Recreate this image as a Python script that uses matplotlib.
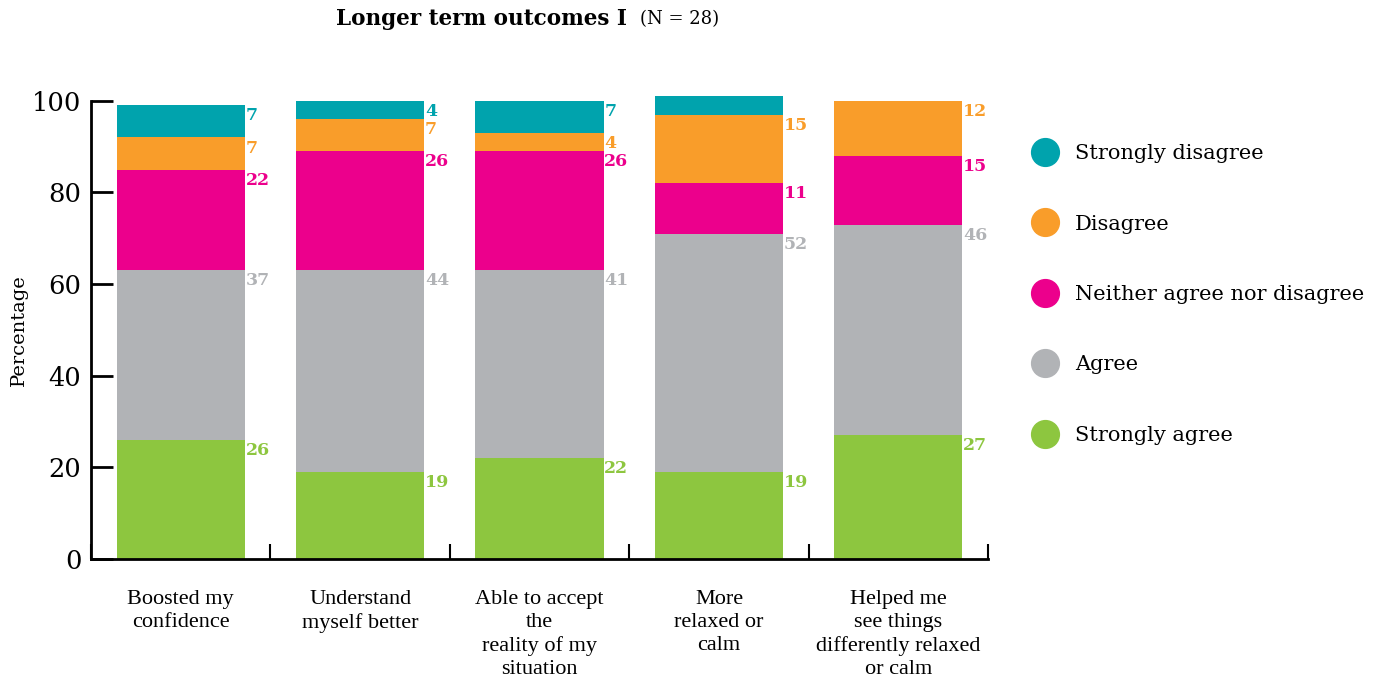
import numpy as np
import matplotlib
matplotlib.use("Agg")
import matplotlib.pyplot as plt
from matplotlib.lines import Line2D

# categories and responses (percent), bottom to top in the stack
categories = ["Boosted my\nconfidence", "Understand\nmyself better",
              "Able to accept\nthe\nreality of my\nsituation",
              "More\nrelaxed or\ncalm",
              "Helped me\nsee things\ndifferently relaxed\nor calm"]
responses = ["Strongly agree", "Agree", "Neither agree nor disagree",
             "Disagree", "Strongly disagree"]
strongly_agree = [26, 19, 22, 19, 27]
agree = [37, 44, 41, 52, 46]
neither = [22, 26, 26, 11, 15]
disagree = [7, 7, 4, 15, 12]
strongly_disagree = [7, 4, 7, 4, 0]

colours = ["#8DC63F", "#B1B3B6", "#EC008C", "#F99D2A", "#00A3AD"]
series = [strongly_agree, agree, neither, disagree, strongly_disagree]

serif = "DejaVu Serif"
fig = plt.figure(figsize=(13.79, 6.81), dpi=100)
ax = fig.add_axes([0.066, 0.179, 0.6505, 0.673])

x = np.arange(len(categories))
bottom = np.zeros(len(categories))
for vals, col in zip(series, colours):
    vals = np.array(vals, dtype=float)
    ax.bar(x, vals, bottom=bottom, width=0.715, color=col, clip_on=False)
    for i, v in enumerate(vals):
        if v > 0:
            ax.annotate(str(int(v)), (x[i] + 0.3575, bottom[i] + v),
                        xytext=(0.5, -1.5), textcoords="offset points",
                        ha="left", va="top", color=col, fontsize=12.5,
                        fontweight="bold", family=serif)
    bottom += vals

ax.set_xlim(-0.5, len(categories) - 0.5)
ax.set_ylim(0, 100)
ax.set_yticks([0, 20, 40, 60, 80, 100])
ax.tick_params(axis="y", direction="in", length=16, width=2, labelsize=18.5,
               pad=7)
for lab in ax.get_yticklabels():
    lab.set_family(serif)
ax.set_xticks(x)
ax.set_xticklabels(categories, family="Liberation Serif", fontsize=16,
                   linespacing=1.3)
ax.tick_params(axis="x", length=0, pad=22)
ax.set_xticks(np.arange(len(categories) + 1) - 0.5, minor=True)
ax.tick_params(axis="x", which="minor", direction="in", length=11, width=1.5)
ax.set_ylabel("Percentage", family=serif, fontsize=14, labelpad=3)

for s in ["top", "right"]:
    ax.spines[s].set_visible(False)
ax.spines["left"].set_linewidth(2)
ax.spines["bottom"].set_linewidth(2)

handles = [Line2D([], [], ls="none", marker="o", markersize=20,
                  markerfacecolor=c, markeredgecolor=c)
           for c in colours[::-1]]
fig.legend(handles, responses[::-1], loc="upper left",
           bbox_to_anchor=(0.729, 0.816), frameon=False,
           labelspacing=2.47, handletextpad=0.45,
           prop={"family": serif, "size": 15})

fig.text(0.2435, 0.972, "Longer term outcomes I", fontsize=15.5,
         fontweight="bold", family=serif, ha="left", va="center")
fig.text(0.464, 0.972, "(N = 28)", fontsize=13, family=serif,
         ha="left", va="center")

fig.savefig("out.png", dpi=100)
